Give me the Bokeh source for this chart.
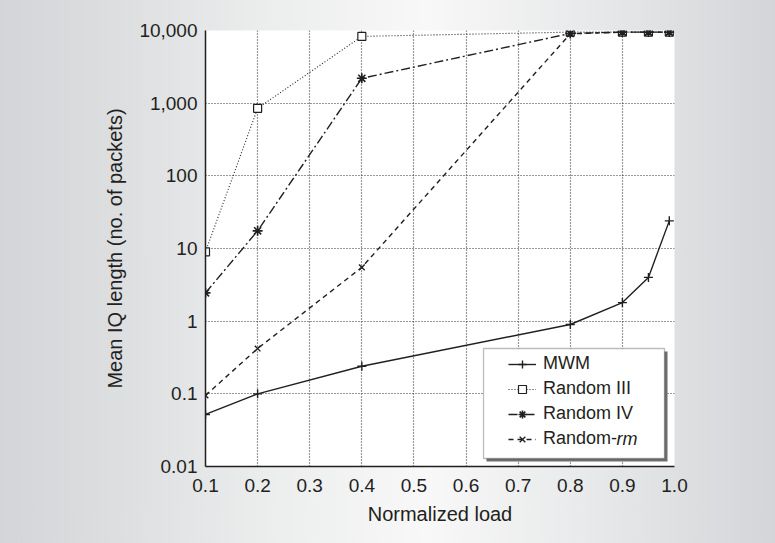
from bokeh.plotting import figure
from bokeh.models import (FixedTicker, NumeralTickFormatter, Legend, LegendItem,
                          BoxAnnotation, Label, Range1d)
from bokeh.embed import file_html
from bokeh.resources import INLINE

# ---- data ----
loads = [0.1, 0.2, 0.4, 0.8, 0.9, 0.95, 0.99]
mwm = [0.052, 0.10, 0.24, 0.90, 1.8, 4.0, 24.0]
random3 = [9.0, 850.0, 8300.0, 9500.0, 9500.0, 9500.0, 9500.0]
random4 = [2.45, 17.5, 2200.0, 9100.0, 9500.0, 9500.0, 9500.0]
random_rm = [0.095, 0.42, 5.5, 9000.0, 9500.0, 9500.0, 9500.0]

x_ticks = [0.1, 0.2, 0.3, 0.4, 0.5, 0.6, 0.7, 0.8, 0.9, 1.0]
y_ticks = [0.01, 0.1, 1, 10, 100, 1000, 10000]

FONT = "Liberation Sans"
INK = "#231f20"

p = figure(width=775, height=543, y_axis_type="log",
           x_range=Range1d(0.1, 1.0), y_range=Range1d(0.01, 10000),
           output_backend="svg", toolbar_location=None,
           min_border_left=205, min_border_right=101,
           min_border_top=30, min_border_bottom=77)

p.styles = {"background": "linear-gradient(to right, #d3d5d8 0%, #dcdee0 15%, "
                          "#eceded 35%, #f8f8f8 55%, #e9eaeb 75%, #d3d5d8 100%)"}
p.border_fill_alpha = 0
p.background_fill_color = "white"
p.outline_line_color = None

# axes
p.xaxis.ticker = FixedTicker(ticks=x_ticks, minor_ticks=[])
p.yaxis.ticker = FixedTicker(ticks=y_ticks, minor_ticks=[])
p.xaxis.formatter = NumeralTickFormatter(format="0.0")
p.yaxis.formatter = NumeralTickFormatter(format="0,0.[00]")
for ax in (p.xaxis[0], p.yaxis[0]):
    ax.axis_line_color = INK
    ax.axis_line_width = 1.5
    ax.major_tick_in = 0
    ax.major_tick_out = 0
    ax.minor_tick_in = 0
    ax.minor_tick_out = 0
    ax.major_label_text_font = FONT
    ax.major_label_text_font_size = "19px"
    ax.major_label_text_color = INK
    ax.axis_label_text_font = FONT
    ax.axis_label_text_font_size = "20px"
    ax.axis_label_text_font_style = "normal"
    ax.axis_label_text_color = INK
p.xaxis.axis_label = "Normalized load"
p.yaxis.axis_label = "Mean IQ length (no. of packets)"
p.xaxis.major_label_standoff = 12
p.yaxis.major_label_standoff = 8
p.xaxis.axis_label_standoff = 8
p.yaxis.axis_label_standoff = 10

p.grid.grid_line_color = "#333333"
p.grid.grid_line_dash = "1 2"
p.grid.grid_line_width = 1.2
p.grid.grid_line_alpha = 1.0

# series
l1 = p.line(loads, mwm, line_color=INK, line_width=1.4)
s1 = p.scatter(loads, mwm, marker="cross", size=9, line_color=INK, line_width=1.4)

l2 = p.line(loads, random3, line_color=INK, line_width=1.1, line_dash="1 2")
s2 = p.scatter(loads, random3, marker="square", size=8, line_color=INK,
               fill_color="white", line_width=1.2)

l3 = p.line(loads, random4, line_color=INK, line_width=1.4, line_dash="9 3 2 3")
s3 = p.scatter(loads, random4, marker="asterisk", size=10, line_color=INK, line_width=1.6)

l4 = p.line(loads, random_rm, line_color=INK, line_width=1.4, line_dash="5 4")
s4 = p.scatter(loads, random_rm, marker="x", size=8, line_color=INK, line_width=1.4)

# legend frame (with drop shadow)
shadow = BoxAnnotation(left=0.6392, right=0.9866, top=0.3825, bottom=0.01172,
                       fill_color="#6d6e70", fill_alpha=1.0, line_alpha=0)
box = BoxAnnotation(left=0.6335, right=0.9808, top=0.4207, bottom=0.01288,
                    fill_color="white", fill_alpha=1.0, line_color=INK, line_width=1.3)
p.add_layout(shadow)
p.add_layout(box)

legend = Legend(items=[
    LegendItem(label="MWM", renderers=[l1, s1]),
    LegendItem(label="Random III", renderers=[l2, s2]),
    LegendItem(label="Random IV", renderers=[l3, s3]),
    LegendItem(label="Random-", renderers=[l4, s4]),
], location=(295, 9))
legend.border_line_alpha = 0
legend.background_fill_alpha = 0
legend.padding = 8
legend.margin = 0
legend.spacing = 4
legend.glyph_width = 28
legend.glyph_height = 20
legend.label_height = 20
legend.label_standoff = 7
legend.label_text_font = FONT
legend.label_text_font_size = "18px"
legend.label_text_color = INK
p.add_layout(legend)

rm = Label(x=0.8887, y=0.02428, text="rm", text_font=FONT, text_font_size="18px",
           text_font_style="italic", text_color=INK, text_baseline="middle")
p.add_layout(rm)

open("out.html", "w").write(file_html(p, INLINE))
